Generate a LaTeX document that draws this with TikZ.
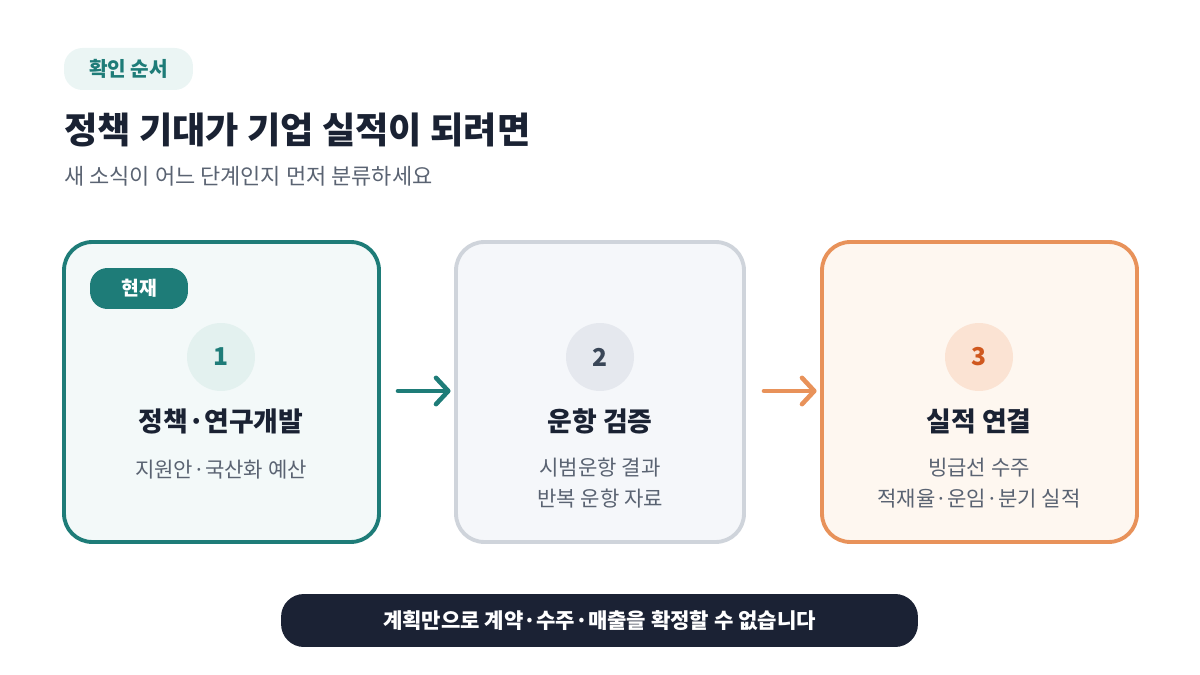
\documentclass[tikz,border=0pt]{standalone}
\usepackage{fontspec}
\setmainfont{Noto Sans CJK KR}
\usetikzlibrary{arrows.meta,positioning}
\definecolor{teal}{HTML}{1E7C78}
\definecolor{tealbg}{HTML}{F3F9F9}
\definecolor{tealsoft}{HTML}{E3F1EF}
\definecolor{ink}{HTML}{1A2233}
\definecolor{muted}{HTML}{5A6372}
\definecolor{greyline}{HTML}{CFD4DB}
\definecolor{greybg}{HTML}{F5F7FA}
\definecolor{greysoft}{HTML}{E5E8EE}
\definecolor{slate}{HTML}{3A4657}
\definecolor{orange}{HTML}{E8925A}
\definecolor{orangebg}{HTML}{FEF7F0}
\definecolor{orangesoft}{HTML}{FBE3D3}
\definecolor{rust}{HTML}{D0581E}
\definecolor{navy}{HTML}{1B2234}
\tikzset{
  card/.style={draw, line width=2.2pt, rounded corners=16pt, minimum width=6.3cm, minimum height=6cm},
  num/.style={circle, minimum size=1.36cm, font=\fontsize{14}{14}\selectfont\bfseries},
  head/.style={font=\fontsize{15.3}{16}\selectfont\bfseries, text=ink},
  note/.style={font=\fontsize{12}{18}\selectfont, text=muted, align=center},
  flow/.style={-{Straight Barb[length=7pt,width=15pt,line cap=round,line join=round]}, line width=2.6pt, line cap=round, shorten >=2pt}
}
\begin{document}
\begin{tikzpicture}[x=0.02cm,y=-0.02cm]
\useasboundingbox (0,0) rectangle (1200,675);
% header
\node[fill=tealsoft!70, rounded corners=10.5pt, minimum width=2.58cm, minimum height=0.84cm,
  text=teal, font=\fontsize{11.5}{12}\selectfont\bfseries] (tag) at (128.5,69) {확인 순서};
\node[anchor=west, text=ink, font=\fontsize{20.6}{22}\selectfont\bfseries, inner sep=0] (title) at (64,130) {정책 기대가 기업 실적이 되려면};
\node[anchor=west, text=muted, font=\fontsize{12.5}{14}\selectfont, inner sep=0] (sub) at (64,176) {새 소식이 어느 단계인지 먼저 분류하세요};
% cards
\node[card, draw=teal, fill=tealbg] (c1) at (221.5,392) {};
\node[card, draw=greyline, fill=greybg, minimum width=5.76cm] (c2) at (600,392) {};
\node[card, draw=orange, fill=orangebg] (c3) at (979.5,392) {};
\node[fill=teal, rounded corners=10pt, minimum width=1.96cm, minimum height=0.82cm,
  text=white, font=\fontsize{11}{11}\selectfont\bfseries] (now) at (139,288.5) {현재};
\node[num, fill=tealsoft, text=teal] (n1) at (221,357) {1};
\node[num, fill=greysoft, text=slate] (n2) at (600,357) {2};
\node[num, fill=orangesoft, text=rust] (n3) at (979,357) {3};
\node[head] (h1) at (221,421) {정책·연구개발};
\node[head] (h2) at (600,421) {운항 검증};
\node[head] (h3) at (979,421) {실적 연결};
\node[note] (t1) at (221,470) {지원안·국산화 예산};
\node[note] (t2) at (600,483) {시범운항 결과\\반복 운항 자료};
\node[note] (t3) at (979,483) {빙급선 수주\\적재율·운임·분기 실적};
% arrows
\coordinate (a1) at (398,391);
\coordinate (a2) at (764,391);
\draw[flow, draw=teal] (a1) -- (c2.west|-a1);
\draw[flow, draw=orange] (a2) -- (c3.west|-a2);
% footer
\node[fill=navy, rounded corners=13pt, minimum width=12.74cm, minimum height=1.06cm,
  text=white, font=\fontsize{12}{13}\selectfont\bfseries] (foot) at (599.5,620.5) {계획만으로 계약·수주·매출을 확정할 수 없습니다};
\end{tikzpicture}
\end{document}
